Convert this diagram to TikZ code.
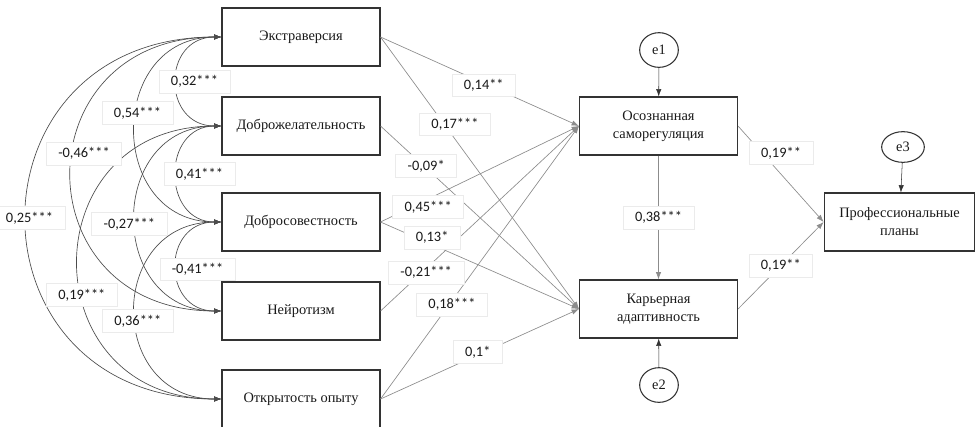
\documentclass[tikz,border=0pt]{standalone}
\usepackage{fontspec}
\setmainfont{Liberation Serif}
\newfontfamily\boxfont{Liberation Serif}
\newfontfamily\coeffont{Carlito}
\usepackage{tikz}
\usetikzlibrary{arrows.meta,calc}
\usetikzlibrary{shapes.geometric}
\tikzset{>={Latex[length=5.5pt,width=4pt]}}
\tikzset{
  var/.style={draw=black!80, line width=0.8pt, minimum width=118.5pt, minimum height=43.5pt,
    align=center, text=black!90, font=\boxfont\fontsize{10.8}{13.5}\selectfont},
  err/.style={ellipse, draw=black!80, line width=0.8pt, minimum width=29pt, minimum height=26pt,
    inner sep=0pt, text=black!90, font=\boxfont\fontsize{10.8}{13}\selectfont},
  coef/.style={fill=white, draw=black!8, inner xsep=9pt, inner ysep=4pt, text=black!90,
    font=\coeffont\fontsize{10.8}{12}\selectfont},
  cov/.style={<->, draw=black!70, line width=0.5pt},
  reg/.style={->, draw=black!45, line width=0.5pt},
}

\begin{document}
\begin{tikzpicture}[x=0.75pt,y=-0.75pt]
\useasboundingbox (0,0) rectangle (976,426);
    %predictors
    \foreach \name/\y/\txt in {ext/37/Экстраверсия, dob/126/Доброжелательность,
        sov/222/Добросовестность, nei/311/Нейротизм, otk/399/{Открытость опыту}}
    {\node[var] (\name) at (301,\y) {\txt};}
    %mediators and outcome
    \node[var] (osr) at (658.5,126) {Осознанная\\саморегуляция};
    \node[var] (kar) at (658.5,309) {Карьерная\\адаптивность};
    \node[var, minimum width=113pt] (prof) at (899.5,222) {Профессиональные\\планы};
    \node[err] (e1) at (659,50) {e1};
    \node[err] (e2) at (659,385) {e2};
    \node[err, minimum width=32pt, minimum height=23pt] (e3) at (903,147) {e3};
    %from/to/bend/label/pos/shift
    \def\covs{ext/dob/60/{0,32***}/0.5/18, dob/sov/60/{0,41***}/0.5/23,
        sov/nei/60/{-0,41***}/0.52/21, ext/sov/115/{0,54***}/0.44/1,
        dob/nei/115/{-0,27***}/0.52/-6, sov/otk/115/{0,36***}/0.54/2,
        ext/nei/200/{-0,46***}/0.45/11, dob/otk/191/{0,19***}/0.58/0,
        ext/otk/260/{0,25***}/0.5/3}
    %from/to/label/pos/shifts
    \def\regs{ext/osr/{0,14**}/0.52/0/2, ext/kar/{0,17***}/0.35/5/-8, dob/kar/{-0,09*}/0.23/0/-2,
        sov/osr/{0,45***}/0.24/0/8, sov/kar/{0,13*}/0.26/0/-7, nei/osr/{-0,21***}/0.23/0/4,
        otk/osr/{0,18***}/0.36/0/4, otk/kar/{0,1*}/0.49/0/-3}
    \foreach \from/\to/\lab/\p/\dx/\dy in \regs
    {\draw[reg] (\from.east) -- (\to.west);}
    \foreach \from/\to/\c/\lab/\p/\dx in \covs
    {\draw[cov] (\from.west) .. controls ($(\from.west)+(-\c,0)$) and ($(\to.west)+(-\c,0)$) .. (\to.west);}
    \draw[reg] (osr.east) -- (prof.west);
    \draw[reg] (kar.east) -- (prof.west);
    \draw[reg] (osr.south) -- (kar.north);
    \draw[->, black!80] (e1) -- (osr);
    \draw[->, black!80] (e2) -- (kar);
    \draw[->, black!80] (e3) -- (prof);
    %coefficients on top
    \foreach \from/\to/\lab/\p/\dx/\dy in \regs
    {\path (\from.east) -- node[coef, pos=\p, shift={(\dx,\dy)}] {\lab} (\to.west);}
    \foreach \from/\to/\c/\lab/\p/\dx in \covs
    {\path (\from.west) .. controls ($(\from.west)+(-\c,0)$) and ($(\to.west)+(-\c,0)$) .. (\to.west)
        node[coef, pos=\p, shift={(\dx,0)}] {\lab};}
    \path (osr.east) -- node[coef, pos=0.28, shift={(19,0)}] {0,19**} (prof.west);
    \path (kar.east) -- node[coef, pos=0.5] {0,19**} (prof.west);
    \path (osr.south) -- node[coef] {0,38***} (kar.north);
\end{tikzpicture}
\end{document}
